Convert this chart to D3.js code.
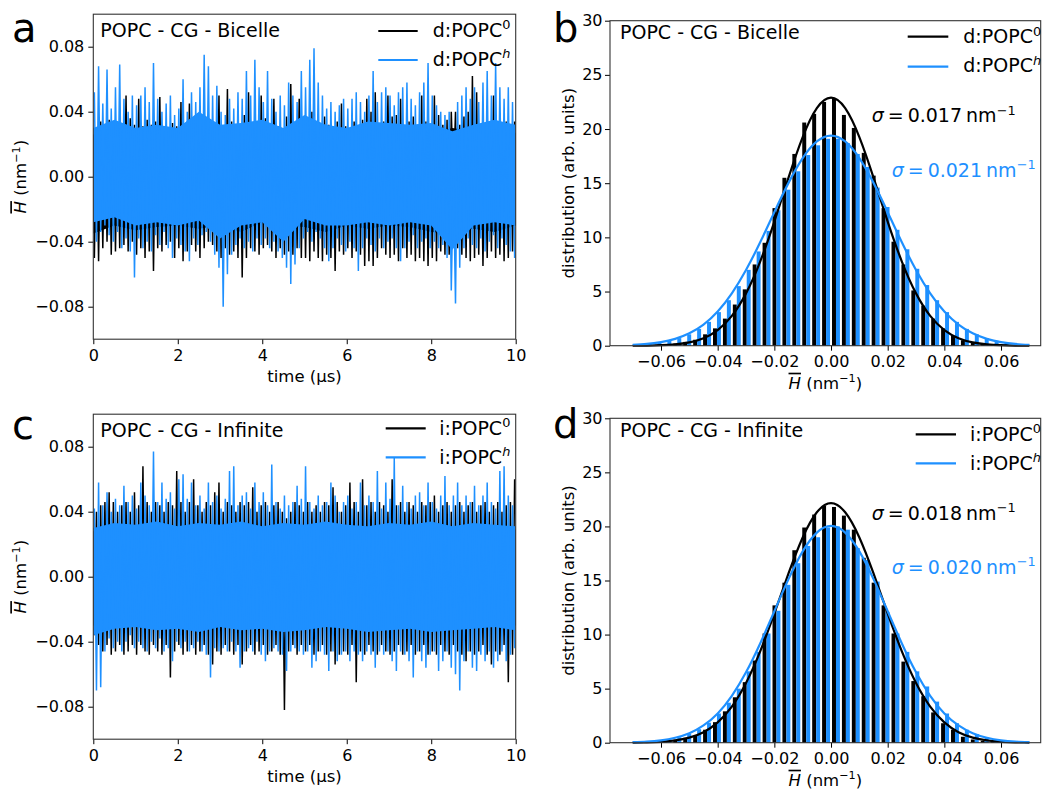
<!DOCTYPE html>
<html>
<head>
<meta charset="utf-8">
<script src="https://cdn.jsdelivr.net/npm/d3@7"></script>
<style>
  body { margin: 0; background: #fff; }
  text { font-family: "DejaVu Sans", sans-serif; }
</style>
</head>
<body>
<script>
// ---- time series ----
const timeTicks = [0, 2, 4, 6, 8, 10];
const curvTicks = [-0.08, -0.04, 0, 0.04, 0.08];

// edge of the solid part of each trace, read every 0.5 us (t = 0 ... 10)
const coreT = d3.range(21).map(i => i * 0.5);
const aBlackCoreHi = [0.026,0.028,0.026,0.027,0.025,0.028,0.026,0.027,0.028,0.026,0.027,0.026,0.025,0.027,0.028,0.026,0.027,0.030,0.028,0.026,0.027];
const aBlackCoreLo = [-0.035,-0.030,-0.033,-0.031,-0.030,-0.032,-0.030,-0.034,-0.028,-0.030,-0.031,-0.034,-0.030,-0.032,-0.030,-0.031,-0.034,-0.035,-0.032,-0.034,-0.030];
const aBlueCoreHi  = [0.030,0.035,0.030,0.032,0.030,0.040,0.032,0.033,0.035,0.030,0.038,0.032,0.030,0.034,0.033,0.032,0.033,0.028,0.032,0.035,0.032];
const aBlueCoreLo  = [-0.028,-0.025,-0.030,-0.028,-0.030,-0.027,-0.038,-0.030,-0.028,-0.040,-0.026,-0.030,-0.030,-0.028,-0.030,-0.028,-0.030,-0.045,-0.030,-0.028,-0.030];
const cBlackCoreHi = [0.028,0.030,0.029,0.031,0.030,0.028,0.030,0.029,0.031,0.030,0.028,0.030,0.031,0.029,0.030,0.028,0.030,0.029,0.031,0.030,0.029];
const cBlackCoreLo = [-0.030,-0.031,-0.029,-0.030,-0.031,-0.030,-0.029,-0.031,-0.030,-0.032,-0.030,-0.029,-0.031,-0.030,-0.029,-0.031,-0.030,-0.029,-0.030,-0.031,-0.030];
const cBlueCoreHi  = [0.030,0.033,0.032,0.034,0.031,0.033,0.032,0.034,0.031,0.033,0.032,0.034,0.032,0.031,0.033,0.032,0.034,0.031,0.033,0.032,0.031];
const cBlueCoreLo  = [-0.036,-0.032,-0.031,-0.033,-0.032,-0.034,-0.031,-0.033,-0.032,-0.034,-0.033,-0.031,-0.032,-0.034,-0.033,-0.032,-0.034,-0.033,-0.032,-0.031,-0.033];

// spikes: per 0.1 us bin, highest and lowest value seen in the bin
const aBlackHi = [
  0.030,0.034,0.031,0.035,0.030,0.033,0.031,0.050,0.036,0.032,
  0.048,0.031,0.035,0.032,0.034,0.049,0.031,0.030,0.033,0.031,
  0.046,0.032,0.045,0.031,0.030,0.034,0.036,0.032,0.030,0.050,
  0.031,0.054,0.034,0.031,0.032,0.038,0.052,0.031,0.034,0.050,
  0.036,0.032,0.048,0.031,0.030,0.037,0.057,0.031,0.048,0.034,
  0.032,0.040,0.031,0.030,0.037,0.032,0.030,0.034,0.045,0.031,
  0.030,0.034,0.031,0.035,0.048,0.040,0.052,0.030,0.034,0.050,
  0.037,0.038,0.048,0.031,0.034,0.037,0.032,0.050,0.034,0.032,
  0.050,0.038,0.032,0.035,0.040,0.040,0.032,0.037,0.040,0.062,
  0.052,0.032,0.031,0.034,0.050,0.032,0.031,0.034,0.030,0.034];
const aBlackLo = [
  -0.050,-0.052,-0.044,-0.040,-0.048,-0.046,-0.044,-0.042,-0.046,-0.040,
  -0.048,-0.044,-0.050,-0.046,-0.058,-0.044,-0.046,-0.042,-0.040,-0.050,
  -0.044,-0.052,-0.046,-0.042,-0.046,-0.050,-0.044,-0.040,-0.042,-0.046,
  -0.050,-0.044,-0.048,-0.046,-0.050,-0.062,-0.050,-0.044,-0.046,-0.048,
  -0.044,-0.042,-0.046,-0.050,-0.044,-0.048,-0.046,-0.048,-0.044,-0.050,
  -0.050,-0.052,-0.046,-0.050,-0.052,-0.048,-0.050,-0.058,-0.046,-0.048,
  -0.044,-0.050,-0.046,-0.048,-0.055,-0.052,-0.055,-0.050,-0.044,-0.048,
  -0.050,-0.048,-0.052,-0.044,-0.050,-0.048,-0.052,-0.050,-0.052,-0.055,
  -0.050,-0.052,-0.046,-0.048,-0.048,-0.004,-0.044,-0.048,-0.050,-0.052,
  -0.050,-0.048,-0.055,-0.050,-0.046,-0.050,-0.048,-0.052,-0.050,-0.046];
const aBlueHi = [
  0.052,0.068,0.045,0.066,0.042,0.055,0.069,0.048,0.040,0.050,
  0.044,0.050,0.055,0.046,0.070,0.048,0.040,0.045,0.050,0.038,
  0.042,0.060,0.040,0.052,0.046,0.055,0.075,0.068,0.050,0.056,
  0.040,0.038,0.048,0.042,0.052,0.048,0.065,0.050,0.072,0.055,
  0.046,0.065,0.048,0.040,0.050,0.044,0.058,0.050,0.046,0.065,
  0.055,0.072,0.079,0.058,0.050,0.042,0.046,0.040,0.044,0.048,
  0.042,0.048,0.052,0.046,0.040,0.050,0.065,0.046,0.052,0.055,
  0.050,0.044,0.052,0.055,0.058,0.048,0.044,0.052,0.058,0.070,
  0.050,0.044,0.040,0.038,0.040,0.000,0.046,0.050,0.055,0.048,
  0.055,0.046,0.058,0.065,0.050,0.070,0.055,0.048,0.055,0.046];
const aBlueLo = [
  -0.040,-0.034,-0.030,-0.036,-0.040,-0.034,-0.044,-0.038,-0.046,-0.062,
  -0.038,-0.044,-0.040,-0.046,-0.036,-0.042,-0.034,-0.044,-0.050,-0.038,
  -0.042,-0.046,-0.052,-0.038,-0.042,-0.036,-0.034,-0.040,-0.048,-0.056,
  -0.080,-0.060,-0.048,-0.042,-0.038,-0.044,-0.040,-0.046,-0.038,-0.042,
  -0.038,-0.044,-0.040,-0.046,-0.050,-0.056,-0.066,-0.054,-0.044,-0.038,
  -0.034,-0.040,-0.034,-0.038,-0.044,-0.052,-0.044,-0.038,-0.042,-0.046,
  -0.040,-0.044,-0.058,-0.044,-0.038,-0.042,-0.046,-0.038,-0.044,-0.040,
  -0.038,-0.044,-0.052,-0.044,-0.040,-0.036,-0.044,-0.040,-0.038,-0.044,
  -0.040,-0.044,-0.042,-0.050,-0.070,-0.078,-0.056,-0.044,-0.038,-0.042,
  -0.044,-0.038,-0.046,-0.040,-0.036,-0.044,-0.038,-0.042,-0.046,-0.050];

const cBlackHi = [
  0.040,0.044,0.046,0.052,0.046,0.040,0.044,0.046,0.040,0.052,
  0.044,0.068,0.046,0.040,0.046,0.044,0.040,0.046,0.044,0.065,
  0.046,0.040,0.046,0.060,0.044,0.040,0.046,0.044,0.052,0.058,
  0.040,0.046,0.044,0.040,0.046,0.044,0.046,0.055,0.040,0.044,
  0.046,0.040,0.044,0.046,0.040,0.036,0.040,0.046,0.044,0.040,
  0.046,0.040,0.044,0.040,0.046,0.044,0.055,0.046,0.040,0.044,
  0.058,0.046,0.040,0.060,0.044,0.046,0.040,0.046,0.044,0.040,
  0.060,0.044,0.046,0.040,0.046,0.044,0.040,0.046,0.044,0.046,
  0.050,0.040,0.044,0.046,0.040,0.044,0.046,0.040,0.044,0.046,
  0.040,0.044,0.046,0.040,0.044,0.046,0.040,0.044,0.046,0.060];
const cBlackLo = [
  -0.036,-0.042,-0.046,-0.042,-0.048,-0.046,-0.042,-0.048,-0.046,-0.042,
  -0.048,-0.042,-0.046,-0.048,-0.042,-0.046,-0.048,-0.042,-0.062,-0.046,
  -0.042,-0.048,-0.046,-0.042,-0.048,-0.046,-0.042,-0.048,-0.054,-0.046,
  -0.048,-0.042,-0.046,-0.048,-0.042,-0.054,-0.046,-0.042,-0.048,-0.046,
  -0.042,-0.048,-0.046,-0.042,-0.048,-0.082,-0.046,-0.042,-0.048,-0.042,
  -0.046,-0.042,-0.048,-0.046,-0.042,-0.048,-0.046,-0.054,-0.048,-0.046,
  -0.048,-0.042,-0.065,-0.046,-0.048,-0.042,-0.046,-0.048,-0.042,-0.046,
  -0.048,-0.046,-0.042,-0.048,-0.046,-0.042,-0.048,-0.046,-0.042,-0.048,
  -0.046,-0.048,-0.042,-0.046,-0.048,-0.042,-0.046,-0.048,-0.052,-0.046,
  -0.048,-0.046,-0.042,-0.048,-0.054,-0.046,-0.048,-0.042,-0.065,-0.048];
const cBlueHi = [
  0.042,0.058,0.044,0.052,0.040,0.048,0.044,0.056,0.046,0.050,
  0.042,0.058,0.050,0.044,0.077,0.046,0.058,0.048,0.052,0.042,
  0.060,0.063,0.048,0.058,0.044,0.050,0.042,0.058,0.046,0.050,
  0.042,0.048,0.065,0.068,0.044,0.050,0.052,0.042,0.058,0.046,
  0.052,0.044,0.069,0.046,0.042,0.050,0.044,0.046,0.056,0.048,
  0.068,0.046,0.042,0.050,0.044,0.046,0.058,0.050,0.040,0.046,
  0.050,0.042,0.046,0.058,0.044,0.050,0.046,0.065,0.042,0.058,
  0.048,0.073,0.044,0.056,0.046,0.042,0.050,0.052,0.044,0.058,
  0.046,0.042,0.050,0.062,0.044,0.050,0.058,0.044,0.050,0.046,
  0.056,0.044,0.050,0.058,0.046,0.042,0.065,0.068,0.050,0.044];
const cBlueLo = [
  -0.070,-0.068,-0.046,-0.038,-0.044,-0.040,-0.046,-0.040,-0.036,-0.044,
  -0.040,-0.044,-0.046,-0.040,-0.044,-0.038,-0.046,-0.044,-0.052,-0.040,
  -0.044,-0.040,-0.046,-0.044,-0.040,-0.046,-0.048,-0.062,-0.044,-0.046,
  -0.044,-0.046,-0.040,-0.046,-0.056,-0.046,-0.044,-0.046,-0.040,-0.048,
  -0.052,-0.046,-0.044,-0.046,-0.048,-0.058,-0.046,-0.044,-0.046,-0.048,
  -0.046,-0.056,-0.052,-0.046,-0.048,-0.058,-0.046,-0.052,-0.048,-0.046,
  -0.052,-0.046,-0.048,-0.052,-0.046,-0.048,-0.056,-0.046,-0.048,-0.046,
  -0.052,-0.058,-0.046,-0.048,-0.052,-0.062,-0.046,-0.052,-0.056,-0.048,
  -0.046,-0.058,-0.052,-0.046,-0.056,-0.060,-0.070,-0.052,-0.046,-0.056,
  -0.058,-0.048,-0.052,-0.046,-0.056,-0.052,-0.046,-0.052,-0.048,-0.044];

// ---- histograms: 40 bins of 0.0035 nm^-1 from -0.07 ----
const binStart = -0.07;
const binWidth = 0.0035;
const hTicks = [-0.06, -0.04, -0.02, 0, 0.02, 0.04, 0.06];
const distTicks = [0, 5, 10, 15, 20, 25, 30];

const bBlackBars = [0.01,0.02,0.05,0.1,0.2,0.35,0.55,1.05,1.6,2.5,3.8,5.2,7.5,9.5,12.7,15.5,17.7,20.6,21.4,22.5,
                    22.8,21.3,20.1,17.8,15.7,12.7,9.6,7.5,5.1,3.7,2.5,1.6,0.9,0.5,0.3,0.15,0.08,0.04,0.02,0.01];
const bBlueBars  = [0.1,0.17,0.28,0.45,0.7,1.05,1.55,2.2,3.1,4.2,5.5,7.0,8.7,10.6,12.5,14.4,16.1,17.6,18.5,19.1,
                    19.1,18.7,17.7,16.5,14.6,12.8,10.7,8.9,7.1,5.6,4.2,3.1,2.2,1.55,1.05,0.7,0.45,0.28,0.17,0.1];
const dBlackBars = [0.02,0.04,0.08,0.15,0.27,0.45,0.65,1.2,1.9,2.9,4.2,5.6,7.6,10.1,12.7,14.8,17.8,19.9,21.1,21.9,
                    21.8,21.0,19.7,17.1,14.8,12.7,10.1,7.5,5.7,4.3,2.8,1.8,1.2,0.55,0.3,0.17,0.09,0.05,0.02,0.01];
const dBlueBars  = [0.06,0.1,0.18,0.32,0.5,0.8,1.25,1.85,2.7,3.7,5.0,6.6,8.4,10.1,12.2,14.6,16.6,18.2,19.0,19.9,
                    20.0,19.7,18.0,16.9,14.9,12.1,10.1,8.4,6.6,5.2,3.8,2.7,1.8,1.2,0.8,0.5,0.3,0.18,0.1,0.06];

// fitted curves read every 0.005 from -0.07 to 0.07
const fitX = d3.range(-14, 15).map(i => i * 0.005);
const bBlackFit = [0.005,0.015,0.045,0.12,0.30,0.69,1.44,2.75,4.83,7.77,11.46,15.52,19.26,21.93,22.9,
                   21.93,19.26,15.52,11.46,7.77,4.83,2.75,1.44,0.69,0.30,0.12,0.045,0.015,0.005];
const bBlueFit  = [0.075,0.16,0.33,0.63,1.14,1.95,3.16,4.84,6.99,9.55,12.33,15.03,17.32,18.86,19.4,
                   18.86,17.32,15.03,12.33,9.55,6.99,4.84,3.16,1.95,1.14,0.63,0.33,0.16,0.075];
const dBlackFit = [0.012,0.033,0.085,0.21,0.47,0.97,1.88,3.34,5.52,8.44,11.95,15.65,18.98,21.31,22.15,
                   21.31,18.98,15.65,11.95,8.44,5.52,3.34,1.88,0.97,0.47,0.21,0.085,0.033,0.012];
const dBlueFit  = [0.044,0.10,0.22,0.46,0.88,1.60,2.71,4.34,6.51,9.18,12.16,15.13,17.69,19.43,20.05,
                   19.43,17.69,15.13,12.16,9.18,6.51,4.34,2.71,1.60,0.88,0.46,0.22,0.10,0.044];

const BLUE = "#1e90ff";

const svg = d3.select("body").append("svg")
  .attr("width", 1050).attr("height", 790)
  .style("background", "#fff");

// text with sub-parts: superscripts, italics, overline, extra gaps
function rich(sel, parts, size) {
  let raised = 0;
  parts.forEach(p => {
    const s = sel.append("tspan").text(p.t);
    const want = p.sup ? -0.4 * size : 0;
    if (want !== raised) { s.attr("dy", want - raised); raised = want; }
    if (p.dx) s.attr("dx", p.dx);
    if (p.sup) s.attr("font-size", size * 0.68);
    if (p.it) s.attr("font-style", "italic");
    if (p.over) s.style("text-decoration", "overline");
  });
  return sel;
}

function frame(g, p) {
  g.append("rect")
    .attr("x", p.x0).attr("y", p.y0)
    .attr("width", p.x1 - p.x0).attr("height", p.y1 - p.y0)
    .attr("fill", "none").attr("stroke", "#333").attr("stroke-width", 1.1);
}

function styleAxis(ax) {
  ax.attr("font-size", 16).attr("font-family", "DejaVu Sans");
  ax.select(".domain").remove();
  ax.selectAll("line").attr("stroke", "#000");
  ax.selectAll("text").attr("fill", "#000");
}

function legend(g, lg, labels) {
  [["#000", 0], [BLUE, 1]].forEach(([col, i]) => {
    g.append("line")
      .attr("x1", lg.lx0).attr("x2", lg.lx1)
      .attr("y1", lg.ly[i]).attr("y2", lg.ly[i])
      .attr("stroke", col).attr("stroke-width", 2.2);
    rich(g.append("text").attr("x", lg.tx).attr("y", lg.ty[i]).attr("font-size", 19), labels[i], 19);
  });
}

function tracePanel(p) {
  const g = svg.append("g");
  const x = d3.scaleLinear().domain([0, 10]).range([p.x0, p.x1]);
  const y = d3.scaleLinear().domain([-0.1, 0.1]).range([p.y1, p.y0]);

  svg.append("clipPath").attr("id", "clip" + p.key).append("rect")
    .attr("x", p.x0).attr("y", p.y0).attr("width", p.x1 - p.x0).attr("height", p.y1 - p.y0);

  // solid body of the dense trace
  const band = lo => d3.area()
    .x((d, i) => x(coreT[i]))
    .y0((d, i) => y(lo[i]))
    .y1(d => y(d));
  // spikes: each 0.1 us bin swings between its high and its low
  const zig = (hi, lo, hiFirst) => hi.flatMap((h, i) => hiFirst
    ? [[i * 0.1 + 0.025, h], [i * 0.1 + 0.075, lo[i]]]
    : [[i * 0.1 + 0.025, lo[i]], [i * 0.1 + 0.075, h]]);
  const line = d3.line().x(d => x(d[0])).y(d => y(d[1]));

  const plot = g.append("g").attr("clip-path", `url(#clip${p.key})`);
  const series = [
    { col: "#000", hi: p.blackHi, lo: p.blackLo, coreHi: p.blackCoreHi, coreLo: p.blackCoreLo, hiFirst: false },
    { col: BLUE, hi: p.blueHi, lo: p.blueLo, coreHi: p.blueCoreHi, coreLo: p.blueCoreLo, hiFirst: true }
  ];
  series.forEach(s => {
    plot.append("path").attr("d", band(s.coreLo)(s.coreHi)).attr("fill", s.col);
    plot.append("path").attr("d", line(zig(s.hi, s.lo, s.hiFirst)))
      .attr("fill", "none").attr("stroke", s.col).attr("stroke-width", 1.5).attr("stroke-linejoin", "miter");
  });

  const ax = g.append("g").attr("transform", `translate(0,${p.y1})`)
    .call(d3.axisBottom(x).tickValues(timeTicks).tickFormat(d3.format("d")).tickSize(5).tickPadding(5.5));
  styleAxis(ax);
  const ay = g.append("g").attr("transform", `translate(${p.x0},0)`)
    .call(d3.axisLeft(y).tickValues(curvTicks).tickFormat(d3.format(".2f")).tickSize(5).tickPadding(4));
  styleAxis(ay);
  frame(g, p);

  g.append("text").attr("x", (p.x0 + p.x1) / 2).attr("y", p.y1 + 43)
    .attr("text-anchor", "middle").attr("font-size", 16.5).text("time (µs)");
  rich(g.append("text").attr("transform", `translate(${p.x0 - 67},${(p.y0 + p.y1) / 2}) rotate(-90)`)
    .attr("text-anchor", "middle").attr("font-size", 16.5),
    [{ t: "H", it: true, over: true }, { t: " (nm" }, { t: "−1", sup: true }, { t: ")" }], 16.5);

  g.append("text").attr("x", p.x0 + 7).attr("y", p.y0 + 22.5).attr("font-size", 19).text(p.title);
  legend(g, p.legend, p.labels);
  g.append("text").attr("x", 12).attr("y", p.letterY).attr("font-size", 40).text(p.letter);
}

function histPanel(p) {
  const g = svg.append("g");
  const x = d3.scaleLinear().domain([-0.078, 0.074]).range([p.x0, p.x1]);
  const y = d3.scaleLinear().domain([0, 30]).range([p.y1, p.y0]);
  const barW = x(0.4 * binWidth) - x(0);

  g.selectAll(null).data(p.blackBars).join("rect")
    .attr("x", (d, i) => x(binStart + i * binWidth + 0.1 * binWidth))
    .attr("y", d => y(d)).attr("width", barW).attr("height", d => y(0) - y(d))
    .attr("fill", "#000");
  g.selectAll(null).data(p.blueBars).join("rect")
    .attr("x", (d, i) => x(binStart + i * binWidth + 0.5 * binWidth))
    .attr("y", d => y(d)).attr("width", barW).attr("height", d => y(0) - y(d))
    .attr("fill", BLUE);

  const line = d3.line().x((d, i) => x(fitX[i])).y(d => y(d)).curve(d3.curveNatural);
  g.append("path").attr("d", line(p.blackFit)).attr("fill", "none").attr("stroke", "#000").attr("stroke-width", 2.2);
  g.append("path").attr("d", line(p.blueFit)).attr("fill", "none").attr("stroke", BLUE).attr("stroke-width", 2.2);

  const ax = g.append("g").attr("transform", `translate(0,${p.y1})`)
    .call(d3.axisBottom(x).tickValues(hTicks).tickFormat(d3.format(".2f")).tickSize(5).tickPadding(5));
  styleAxis(ax);
  const ay = g.append("g").attr("transform", `translate(${p.x0},0)`)
    .call(d3.axisLeft(y).tickValues(distTicks).tickFormat(d3.format("d")).tickSize(5).tickPadding(2.5));
  styleAxis(ay);
  frame(g, p);

  rich(g.append("text").attr("x", (p.x0 + p.x1) / 2).attr("y", p.y1 + 43)
    .attr("text-anchor", "middle").attr("font-size", 16.5),
    [{ t: "H", it: true, over: true }, { t: " (nm" }, { t: "−1", sup: true }, { t: ")" }], 16.5);
  g.append("text").attr("transform", `translate(${p.x0 - 36},${(p.y0 + p.y1) / 2}) rotate(-90)`)
    .attr("text-anchor", "middle").attr("font-size", 16.5).text("distribution (arb. units)");

  g.append("text").attr("x", p.x0 + 10).attr("y", p.y0 + 18.6).attr("font-size", 19).text(p.title);
  legend(g, p.legend, p.labels);

  p.sigmas.forEach((s, i) => {
    rich(g.append("text").attr("x", s.x).attr("y", s.y).attr("font-size", 19).attr("fill", i ? BLUE : "#000"),
      [{ t: "σ", it: true }, { t: "=", dx: 4 }, { t: s.v, dx: 4 }, { t: "nm", dx: 4 }, { t: "−1", sup: true }], 19);
  });
  g.append("text").attr("x", p.x0 - 57).attr("y", p.letterY).attr("font-size", 40).text(p.letter);
}

const lab = (pre, sup, it) => [{ t: pre + ":POPC" }, { t: sup, sup: true, it: it }];

tracePanel({
  key: "a", letter: "a", letterY: 41.7, x0: 93.3, x1: 515.7, y0: 14.2, y1: 339.2,
  title: "POPC - CG - Bicelle",
  blackHi: aBlackHi, blackLo: aBlackLo, blueHi: aBlueHi, blueLo: aBlueLo,
  blackCoreHi: aBlackCoreHi, blackCoreLo: aBlackCoreLo, blueCoreHi: aBlueCoreHi, blueCoreLo: aBlueCoreLo,
  legend: { lx0: 378.3, lx1: 417.7, ly: [31, 60], tx: 432.7, ty: [36.7, 66] },
  labels: [lab("d", "0"), lab("d", "h", true)]
});
tracePanel({
  key: "c", letter: "c", letterY: 439.3, x0: 93.3, x1: 515.7, y0: 414.2, y1: 739.2,
  title: "POPC - CG - Infinite",
  blackHi: cBlackHi, blackLo: cBlackLo, blueHi: cBlueHi, blueLo: cBlueLo,
  blackCoreHi: cBlackCoreHi, blackCoreLo: cBlackCoreLo, blueCoreHi: cBlueCoreHi, blueCoreLo: cBlueCoreLo,
  legend: { lx0: 385.7, lx1: 425.7, ly: [428.3, 457.3], tx: 439.3, ty: [435, 464] },
  labels: [lab("i", "0"), lab("i", "h", true)]
});
histPanel({
  letter: "b", letterY: 41.7, x0: 610, x1: 1040.7, y0: 20.7, y1: 345.7,
  title: "POPC - CG - Bicelle",
  blackBars: bBlackBars, blueBars: bBlueBars, blackFit: bBlackFit, blueFit: bBlueFit,
  legend: { lx0: 907.7, lx1: 948.3, ly: [36.7, 66.7], tx: 963.3, ty: [43.3, 72.3] },
  labels: [lab("d", "0"), lab("d", "h", true)],
  sigmas: [{ x: 871.7, y: 122.3, v: "0.017" }, { x: 891.7, y: 176.7, v: "0.021" }]
});
histPanel({
  letter: "d", letterY: 438.3, x0: 610, x1: 1040.7, y0: 418.3, y1: 742.7,
  title: "POPC - CG - Infinite",
  blackBars: dBlackBars, blueBars: dBlueBars, blackFit: dBlackFit, blueFit: dBlueFit,
  legend: { lx0: 915.7, lx1: 956, ly: [434.3, 463.3], tx: 970, ty: [440.7, 470] },
  labels: [lab("i", "0"), lab("i", "h", true)],
  sigmas: [{ x: 871.7, y: 520, v: "0.018" }, { x: 891.7, y: 574, v: "0.020" }]
});
</script>
</body>
</html>
